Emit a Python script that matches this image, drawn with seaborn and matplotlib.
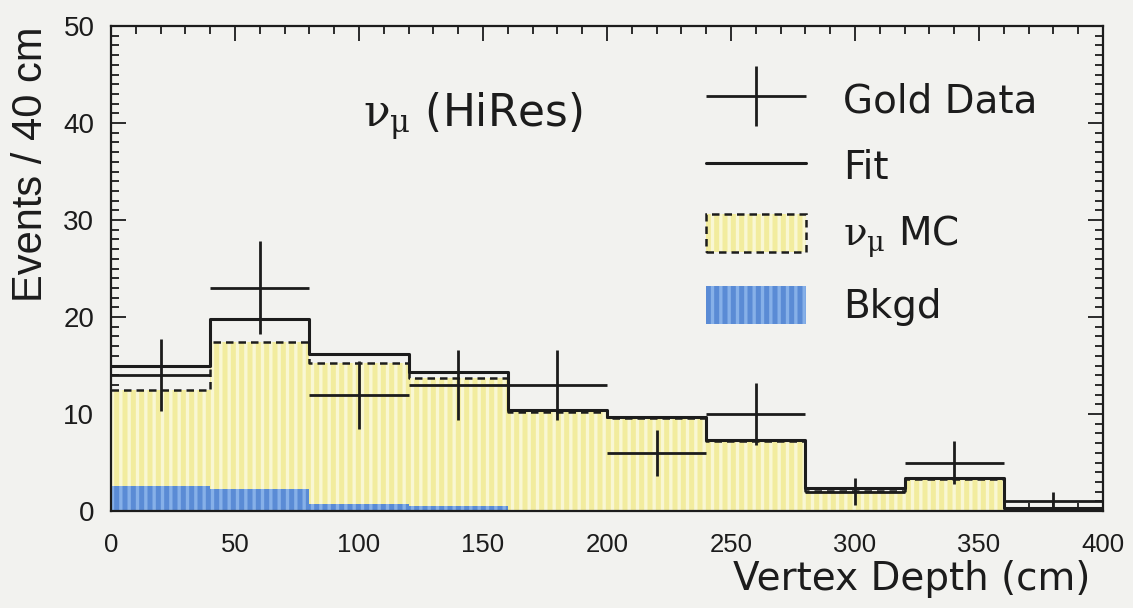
import matplotlib
matplotlib.use("Agg")
import numpy as np
import pandas as pd
import matplotlib.pyplot as plt
import seaborn as sns
from matplotlib.patches import Patch
from matplotlib.lines import Line2D
from matplotlib.container import ErrorbarContainer
from matplotlib.legend_handler import HandlerTuple, HandlerErrorbar
from matplotlib.ticker import MultipleLocator

# Binning in vertex depth (cm)
bin_edges = [0, 40, 80, 120, 160, 200, 240, 280, 320, 360, 400]
depth = [20, 60, 100, 140, 180, 220, 260, 300, 340, 380]

# Events per 40 cm bin
gold_data = [14, 23, 12, 13, 13, 6, 10, 2, 5, 1]
gold_err = [3.7, 4.8, 3.5, 3.6, 3.6, 2.4, 3.2, 1.4, 2.2, 1.0]
fit = [15.0, 19.8, 16.2, 14.3, 10.4, 9.7, 7.3, 2.4, 3.4, 0.35]
numu_mc = [12.5, 17.4, 15.3, 13.7, 10.25, 9.6, 7.25, 2.1, 3.35, 0.3]
bkgd = [2.6, 2.3, 0.75, 0.5, 0.15, 0.05, 0, 0, 0, 0]

df = pd.DataFrame({
    "depth": depth, "data": gold_data, "err": gold_err,
    "fit": fit, "mc": numu_mc, "bkgd": bkgd,
})

sns.set_theme(style="ticks")
plt.rcParams["font.family"] = ["DejaVu Sans"]
plt.rcParams["hatch.linewidth"] = 2.4

paper = "#f2f2ef"
yellow = "#f2ec9e"
yellow_stripe = "#f9f7d4"
blue = "#5a8bd5"
blue_stripe = "#86b0e8"
ink = "#1c1c1c"

fig = plt.figure(figsize=(11.33, 6.08), dpi=100, facecolor=paper)
ax = fig.add_axes([0.098, 0.1595, 0.8755, 0.7977], facecolor=paper)

# nu_mu MC: striped yellow fill
sns.histplot(data=df, x="depth", weights="mc", bins=bin_edges, element="step",
             fill=True, color=yellow, alpha=1, edgecolor=yellow_stripe,
             linewidth=0, hatch="||", ax=ax, zorder=1)
# Background: striped blue fill
sns.histplot(data=df, x="depth", weights="bkgd", bins=bin_edges, element="step",
             fill=True, color=blue, alpha=1, edgecolor=blue_stripe,
             linewidth=0, hatch="||", ax=ax, zorder=2)
# MC outline (dashed)
sns.histplot(data=df, x="depth", weights="mc", bins=bin_edges, element="step",
             fill=False, color=ink, linewidth=1.8, linestyle=(0, (3, 2)),
             ax=ax, zorder=3)
# Fit outline
sns.histplot(data=df, x="depth", weights="fit", bins=bin_edges, element="step",
             fill=False, color=ink, linewidth=2.2, ax=ax, zorder=4)
# Gold data points with bin-width and statistical errors
data_marks = ax.errorbar(df["depth"], df["data"], xerr=20, yerr=df["err"],
                         fmt="none", ecolor=ink, elinewidth=2.0, capsize=0,
                         zorder=5)

ax.set_xlim(0, 400)
ax.set_ylim(0, 50)
ax.xaxis.set_major_locator(MultipleLocator(50))
ax.xaxis.set_minor_locator(MultipleLocator(10))
ax.yaxis.set_major_locator(MultipleLocator(10))
ax.yaxis.set_minor_locator(MultipleLocator(1))
ax.tick_params(which="both", direction="in", top=True, right=True,
               color=ink, width=1.3)
ax.tick_params(which="major", length=11, labelcolor=ink)
ax.tick_params(which="minor", length=5.5)
ax.tick_params(axis="x", which="major", pad=16, labelsize=18.5)
ax.tick_params(axis="y", which="major", pad=12, labelsize=20)
for lbl in ax.get_xticklabels() + ax.get_yticklabels():
    lbl.set_fontfamily("Liberation Sans")
for s in ax.spines.values():
    s.set_color(ink)
    s.set_linewidth(1.6)

ax.set_xlabel("Vertex Depth (cm)", fontsize=28, color=ink, loc="right")
ax.xaxis.label.set_va("center")
ax.xaxis.set_label_coords(0.987, -0.14)
ax.set_ylabel("Events / 40 cm", fontsize=30, color=ink, loc="top",
              fontfamily="Liberation Sans")
ax.yaxis.label.set_va("center")
ax.yaxis.set_label_coords(-0.0806, 1.0)

fig.text(0.3204, 0.791, r"$\mathrm{\nu_{\mu}}$ (HiRes)", fontsize=31.5,
         color=ink, math_fontfamily="dejavuserif", ha="left", va="baseline")

fit_handle = Line2D([], [], color=ink, linewidth=2.2)
mc_handle = (Patch(facecolor=yellow, edgecolor=yellow_stripe, hatch="||", linewidth=0),
             Patch(facecolor="none", edgecolor=ink, linestyle=(0, (3, 2)), linewidth=1.8))
bkgd_handle = Patch(facecolor=blue, edgecolor=blue_stripe, hatch="||", linewidth=0)

leg = ax.legend([data_marks, fit_handle, mc_handle, bkgd_handle],
                ["Gold Data", "Fit", r"$\mathrm{\nu_{\mu}}$ MC", "Bkgd"],
                handler_map={tuple: HandlerTuple(ndivide=1, pad=0),
                             ErrorbarContainer: HandlerErrorbar(xerr_size=1.29,
                                                                yerr_size=0.77)},
                loc="upper left", bbox_to_anchor=(706 / 1133, 1 - 80 / 608),
                bbox_transform=fig.transFigure, frameon=False,
                fontsize=28, borderpad=0, borderaxespad=0,
                handlelength=2.57, handleheight=1.13, handletextpad=0.95,
                labelspacing=0.68)
for t in leg.get_texts():
    t.set_color(ink)
    t.set_math_fontfamily("dejavuserif")

fig.savefig("out.png", dpi=100, facecolor=paper)
